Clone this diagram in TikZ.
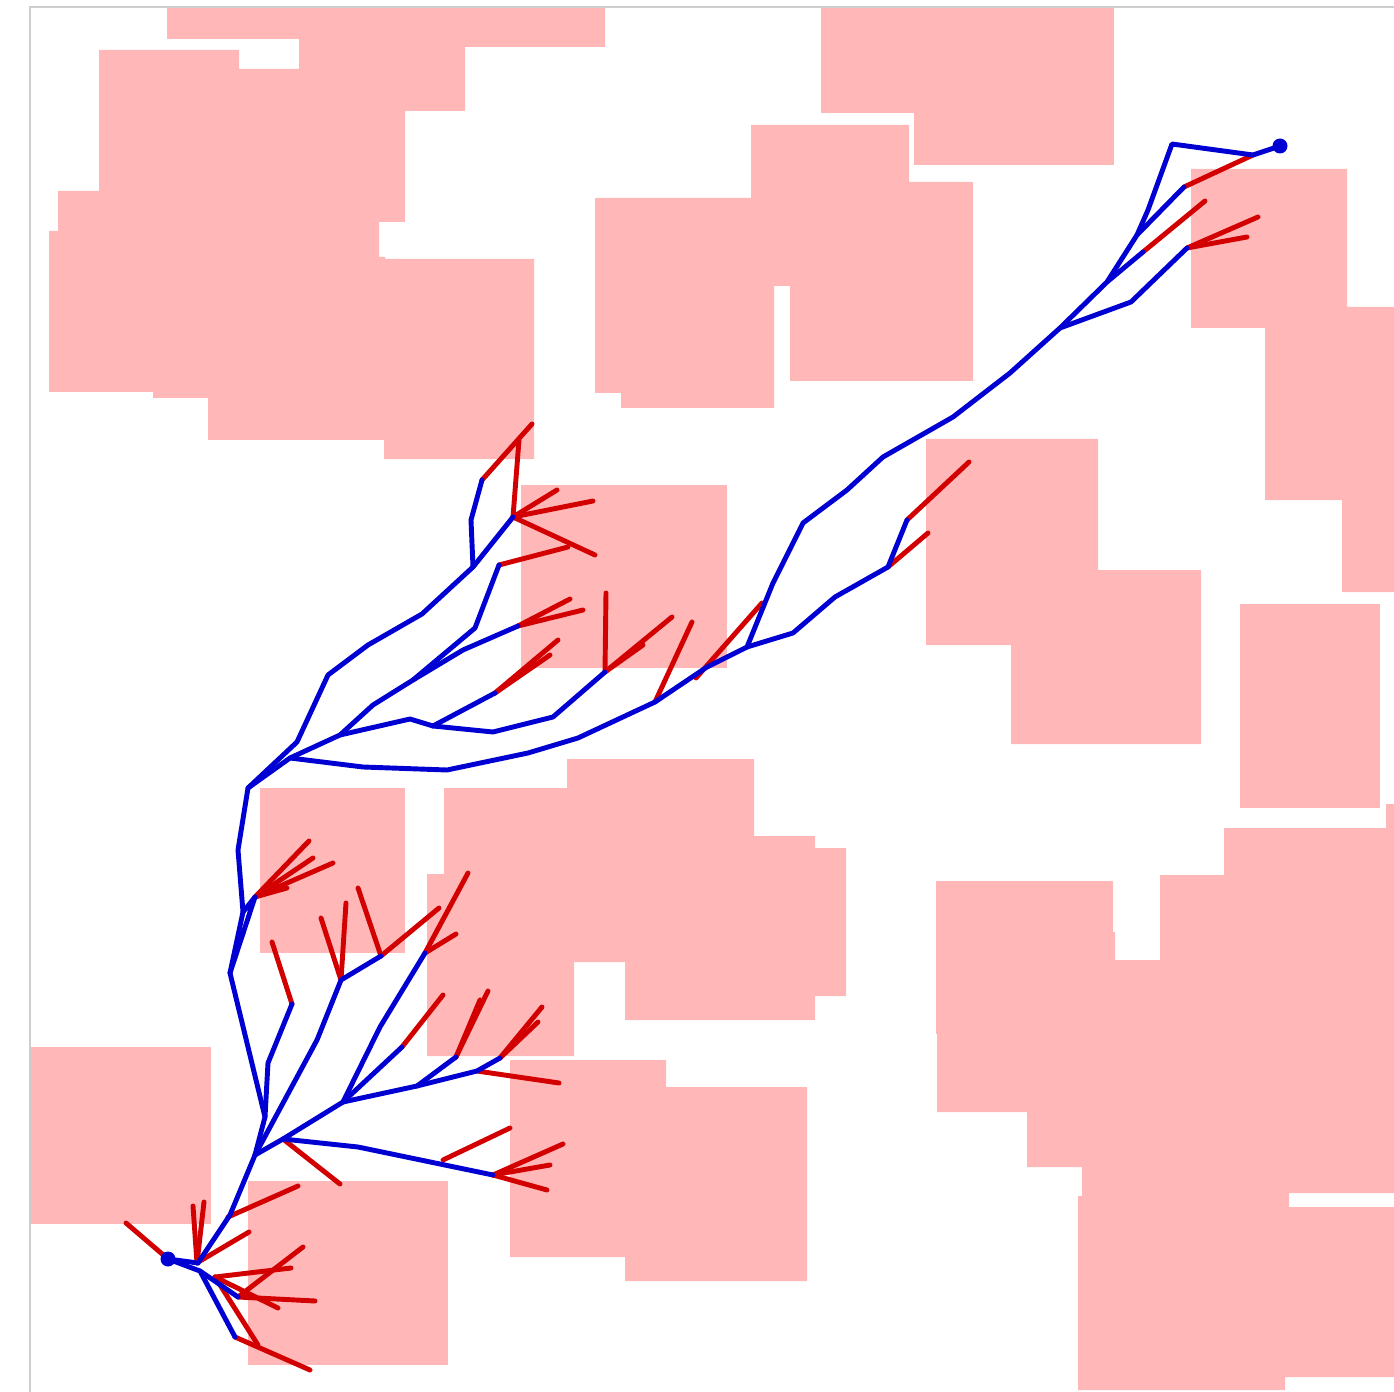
\documentclass[tikz,border=0pt]{standalone}
\usepackage{tikz}
\definecolor{obs}{RGB}{255,183,183}
\definecolor{treeblue}{RGB}{0,0,210}
\definecolor{treered}{RGB}{210,0,0}
\definecolor{framegray}{RGB}{205,205,205}
\begin{document}
\begin{tikzpicture}[x=0.02cm,y=-0.02cm,
  obstacle/.style={fill=obs,draw=none},
  bl/.style={draw=treeblue,line width=2.8pt,line cap=round,line join=round},
  rd/.style={draw=treered,line width=2.8pt,line cap=round,line join=round}]
\useasboundingbox (0,0) rectangle (1394,1392);
\begin{scope}
\clip (0,0) rectangle (1394,1392);
% obstacles
\fill[obs] (167,7)--(605,7)--(605,47)--(465,47)--(465,111)--(405,111)--(405,222)--(379,222)--(379,257)--(385,257)--(385,259)--(534,259)--(534,459)--(384,459)--(384,440)--(208,440)--(208,398)--(153,398)--(153,392)--(49,392)--(49,231)--(58,231)--(58,191)--(99,191)--(99,50)--(239,50)--(239,69)--(299,69)--(299,39)--(167,39)--cycle;
\fill[obs] (521,485) rectangle (727,668);
\fill[obs] (595,198)--(751,198)--(751,125)--(909,125)--(909,182)--(973,182)--(973,381)--(790,381)--(790,286)--(774,286)--(774,408)--(621,408)--(621,393)--(595,393)--cycle;
\fill[obs] (821,7) rectangle (1114,113);
\fill[obs] (914,7) rectangle (1114,165);
\fill[obs] (1191,169)--(1347,169)--(1347,307)--(1400,307)--(1400,592)--(1342,592)--(1342,500)--(1265,500)--(1265,328)--(1191,328)--cycle;
\fill[obs] (926,439)--(1098,439)--(1098,570)--(1201,570)--(1201,744)--(1011,744)--(1011,645)--(926,645)--cycle;
\fill[obs] (1240,604) rectangle (1380,808);
\fill[obs] (936,881)--(1113,881)--(1113,932)--(1115,932)--(1115,960)--(1160,960)--(1160,875)--(1224,875)--(1224,828)--(1386,828)--(1386,804)--(1400,804)--(1400,1193)--(1289,1193)--(1289,1207)--(1400,1207)--(1400,1377)--(1285,1377)--(1285,1390)--(1078,1390)--(1078,1196)--(1082,1196)--(1082,1167)--(1027,1167)--(1027,1112)--(937,1112)--(937,1034)--(936,1034)--cycle;
\fill[obs] (260,788) rectangle (405,953);
\fill[obs] (567,759)--(754,759)--(754,836)--(815,836)--(815,848)--(846,848)--(846,996)--(815,996)--(815,1020)--(625,1020)--(625,962)--(574,962)--(574,1056)--(427,1056)--(427,874)--(444,874)--(444,788)--(567,788)--cycle;
\fill[obs] (510,1060)--(666,1060)--(666,1087)--(807,1087)--(807,1281)--(625,1281)--(625,1257)--(510,1257)--cycle;
\fill[obs] (30,1047) rectangle (211,1224);
\fill[obs] (248,1181) rectangle (448,1365);
% frame
\draw[framegray,line width=0.8pt] (1420,7)--(30,7)--(30,1420);
% red extensions
\draw[rd] (1253,155)--(1184,187);
\draw[rd] (1143,252)--(1205,201);
\draw[rd] (1187,248)--(1258,217);
\draw[rd] (1187,248)--(1247,237);
\draw[rd] (888,567)--(928,533);
\draw[rd] (907,520)--(969,462);
\draw[rd] (696,678)--(762,603);
\draw[rd] (655,702)--(692,622);
\draw[rd] (605,672)--(606,593);
\draw[rd] (605,672)--(672,617);
\draw[rd] (605,672)--(643,645);
\draw[rd] (495,693)--(558,640);
\draw[rd] (495,693)--(550,655);
\draw[rd] (518,626)--(570,599);
\draw[rd] (518,626)--(583,610);
\draw[rd] (499,565)--(568,547);
\draw[rd] (482,480)--(532,424);
\draw[rd] (513,517)--(519,440);
\draw[rd] (513,517)--(557,490);
\draw[rd] (513,517)--(593,501);
\draw[rd] (513,517)--(595,555);
\draw[rd] (255,897)--(309,841);
\draw[rd] (255,897)--(313,858);
\draw[rd] (255,897)--(333,863);
\draw[rd] (255,897)--(287,888);
\draw[rd] (292,1004)--(272,942);
\draw[rd] (341,980)--(321,918);
\draw[rd] (341,980)--(346,903);
\draw[rd] (381,956)--(358,888);
\draw[rd] (381,956)--(439,908);
\draw[rd] (425,953)--(468,873);
\draw[rd] (425,953)--(456,934);
\draw[rd] (402,1047)--(443,995);
\draw[rd] (456,1057)--(488,991);
\draw[rd] (456,1057)--(480,1000);
\draw[rd] (477,1071)--(559,1083);
\draw[rd] (500,1058)--(542,1007);
\draw[rd] (500,1058)--(538,1022);
\draw[rd] (283,1139)--(340,1184);
\draw[rd] (443,1160)--(510,1128);
\draw[rd] (493,1175)--(563,1144);
\draw[rd] (493,1175)--(550,1165);
\draw[rd] (493,1175)--(547,1190);
\draw[rd] (228,1217)--(298,1186);
\draw[rd] (168,1259)--(126,1223);
\draw[rd] (197,1263)--(193,1206);
\draw[rd] (197,1263)--(204,1202);
\draw[rd] (200,1261)--(249,1232);
\draw[rd] (215,1277)--(291,1268);
\draw[rd] (215,1277)--(278,1308);
\draw[rd] (215,1277)--(258,1345);
\draw[rd] (238,1297)--(315,1301);
\draw[rd] (238,1297)--(303,1247);
\draw[rd] (235,1337)--(310,1370);
% blue tree
\draw[bl] (1280,146)--(1253,155)--(1172,144)--(1148,210)--(1137,235)--(1107,282)--(1060,328)--(1010,373)--(953,417)--(883,457)--(847,490)--(803,523)--(773,583)--(747,647)--(707,667)--(655,702)--(578,738)--(528,753)--(447,770)--(363,767)--(290,758)--(248,788)--(238,850)--(243,912)--(230,973)--(265,1117)--(255,1155)--(230,1215)--(198,1263);
\draw[bl] (1184,187)--(1137,235);
\draw[bl] (1107,282)--(1143,252);
\draw[bl] (1060,328)--(1131,302)--(1187,248);
\draw[bl] (747,647)--(793,633)--(835,597)--(888,567)--(907,520);
\draw[bl] (290,758)--(340,735)--(373,705)--(413,680)--(463,650)--(518,626);
\draw[bl] (413,680)--(475,628)--(499,565);
\draw[bl] (248,788)--(297,742)--(328,675)--(368,645)--(422,614)--(473,567)--(513,517);
\draw[bl] (473,567)--(471,520)--(482,480);
\draw[bl] (340,735)--(410,719)--(433,726)--(493,732)--(553,717)--(605,672);
\draw[bl] (433,726)--(495,693);
\draw[bl] (243,912)--(255,897)--(230,973);
\draw[bl] (265,1117)--(268,1063)--(292,1004);
\draw[bl] (255,1155)--(317,1040)--(341,980)--(381,956);
\draw[bl] (255,1155)--(283,1139)--(343,1102)--(380,1027)--(425,953);
\draw[bl] (343,1102)--(402,1047);
\draw[bl] (343,1102)--(417,1086)--(456,1057);
\draw[bl] (417,1086)--(477,1071)--(500,1058);
\draw[bl] (283,1139)--(358,1147)--(493,1175);
\draw[bl] (168,1259)--(198,1263);
\draw[bl] (168,1259)--(200,1271)--(235,1337);
\draw[bl] (200,1271)--(238,1297);
% start and goal
\fill[treeblue] (1280,146) circle (7.5);
\fill[treeblue] (168,1259) circle (7.5);
\end{scope}
\end{tikzpicture}
\end{document}
